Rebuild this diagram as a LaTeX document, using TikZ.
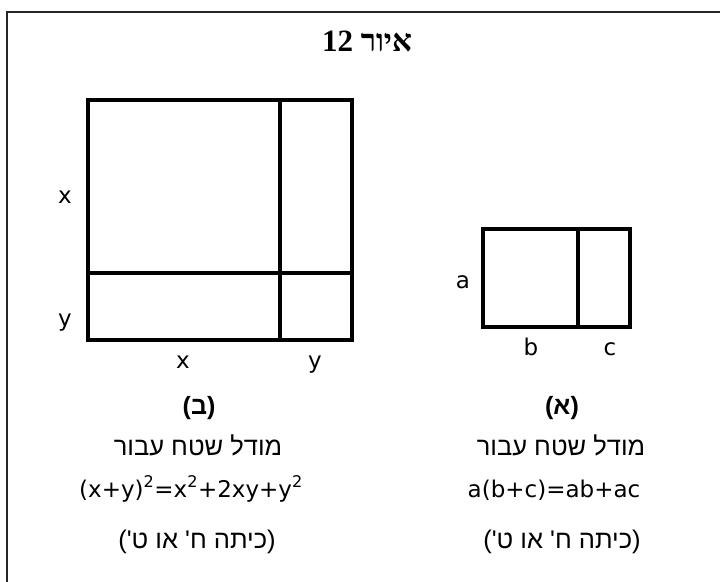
\documentclass[tikz,border=0pt]{standalone}
\usepackage{fontspec}
\setmainfont{DejaVu Sans}
\newfontfamily\hebfont[Script=Hebrew]{Liberation Sans}
\newfontfamily\hebserif[Script=Hebrew]{Liberation Serif}
\TeXXeTstate=1
\begin{document}
\begin{tikzpicture}[x=1pt,y=-1pt,
  lbl/.style={font=\fontsize{23}{26}\selectfont, inner sep=0pt, anchor=base},
  heb/.style={font=\hebfont\fontsize{25.5}{28}\selectfont, inner sep=0pt, anchor=base},
  hebbold/.style={font=\hebfont\bfseries\fontsize{25}{28}\selectfont, inner sep=0pt, anchor=base},
  box/.style={draw, line width=3.3pt},
  frame/.style={draw=black!85, line width=2pt}]
\useasboundingbox (0,0) rectangle (720,581);
\draw[frame] (7,583) -- (7,12) -- (722,12);
\node[inner sep=0pt, anchor=base, font=\hebserif\bfseries\fontsize{31}{34}\selectfont] (title) at (367,51) {\beginR איור \beginL12\endL\endR};
% big square
\draw[box] (88,100) rectangle (352,340);
\draw[box] (280,100) -- (280,340);
\draw[box] (88,273) -- (352,273);
\node[lbl] (lx1) at (65,203) {x};
\node[lbl] (ly1) at (65,326) {y};
\node[lbl] (lx2) at (183,368) {x};
\node[lbl] (ly2) at (315,368) {y};
% small rectangle
\draw[box] (483,229) rectangle (630,327);
\draw[box] (578,229) -- (578,327);
\node[lbl] (la) at (463,288) {a};
\node[lbl] (lb) at (531,355) {b};
\node[lbl] (lc) at (610,355) {c};
% captions left
\node[hebbold] (capB) at (199,414) {\beginR(ב)\endR};
\node[heb] (modelB) at (198,455) {\beginR מודל שטח עבור\endR};
\node[lbl] (formB) at (191,497) {(x+y)\textsuperscript{2}=x\textsuperscript{2}+2xy+y\textsuperscript{2}};
\node[heb] (classB) at (197,548) {\beginR(כיתה ח' או ט')\endR};
% captions right
\node[hebbold] (capA) at (562,414) {\beginR(א)\endR};
\node[heb] (modelA) at (561,455) {\beginR מודל שטח עבור\endR};
\node[lbl] (formA) at (554,497) {a(b+c)=ab+ac};
\node[heb] (classA) at (562,548) {\beginR(כיתה ח' או ט')\endR};
\end{tikzpicture}
\end{document}
